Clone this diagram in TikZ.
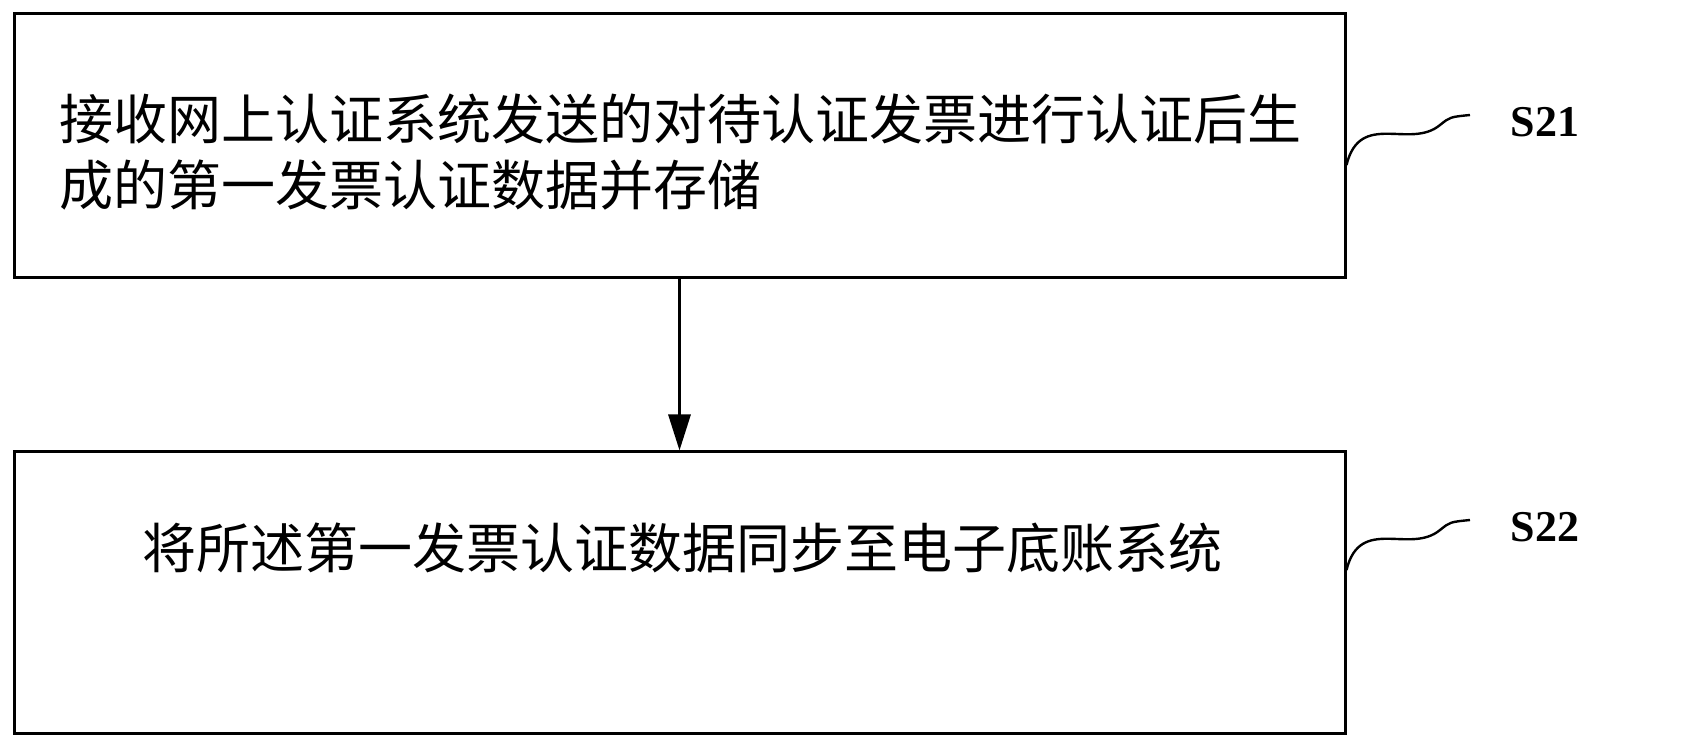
\documentclass[tikz,border=0pt]{standalone}
\usepackage{fontspec}
\setmainfont{Liberation Serif}
\newfontfamily\cjk{Noto Sans CJK SC}
\usetikzlibrary{arrows.meta}
\tikzset{
  stepbox/.style={draw,line width=1.5pt,minimum width=665.5pt,minimum height=132pt,inner sep=0pt},
  steptext/.style={font=\cjk\fontsize{27}{33}\selectfont,align=left,anchor=west},
  steplabel/.style={font=\bfseries\fontsize{22}{26}\selectfont},
}
\begin{document}
\begin{tikzpicture}[x=0.5pt,y=-0.5pt,>={Triangle[length=18pt,width=11pt]}]
\useasboundingbox (0,0) rectangle (1682,748);

\node[steptext] (t1) at (52,152) {接收网上认证系统发送的对待认证发票进行认证后生\\成的第一发票认证数据并存储};
\node[steptext] (t2) at (135,548) {将所述第一发票认证数据同步至电子底账系统};

\node[stepbox] (b1) at (679.5,146) {};
\node[stepbox,minimum height=140.5pt] (b2) at (679.5,592.5) {};

\node[steplabel] (s1) at (1545,122) {S21};
\node[steplabel] (s2) at (1545,527) {S22};

\coordinate (c1) at (1470,115);
\coordinate (c2) at (1470,520);

\draw[line width=1.2pt] (b1.east |- 0,165) .. controls (1360,110) and (1410,150) .. (1440,125) .. controls (1450,117) .. (c1);
\draw[line width=1.2pt] (b2.east |- 0,570) .. controls (1360,515) and (1410,555) .. (1440,530) .. controls (1450,522) .. (c2);

\draw[->,line width=1.5pt] (b1) -- (b2);
\end{tikzpicture}
\end{document}
